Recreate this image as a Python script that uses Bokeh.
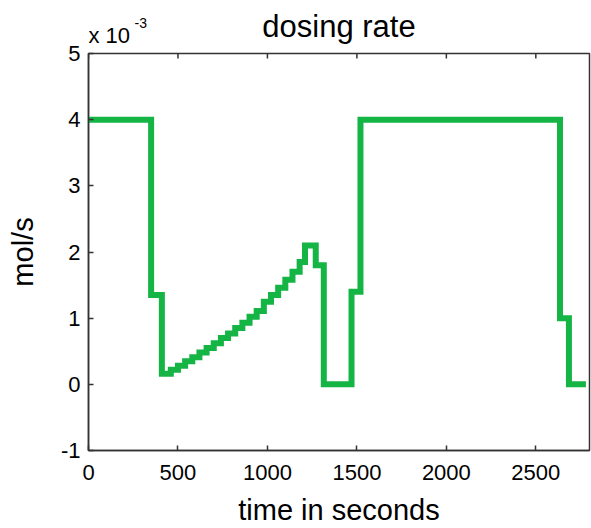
import math
from bokeh.plotting import figure
from bokeh.models import Label, Range1d, FixedTicker
from bokeh.layouts import column
from bokeh.embed import file_html
from bokeh.resources import INLINE

# dosing rate in units of 1e-3 mol/s (step signal, value holds until next time)
time_s = [0, 350, 410, 460, 500, 540, 580, 620, 660, 700, 740, 780, 820, 860,
          900, 940, 980, 1020, 1060, 1100, 1140, 1180, 1210, 1270, 1315,
          1470, 1520, 2635, 2685, 2780]
rate = [4.0, 1.35, 0.16, 0.22, 0.28, 0.35, 0.41, 0.48, 0.55, 0.62, 0.70, 0.77,
        0.85, 0.93, 1.02, 1.11, 1.25, 1.35, 1.46, 1.58, 1.70, 1.85, 2.10, 1.80,
        0.0, 1.40, 4.0, 1.0, 0.0, 0.0]

x_ticks = [0, 500, 1000, 1500, 2000, 2500]
y_ticks = [-1, 0, 1, 2, 3, 4, 5]
x_lim = (0, 2800)
y_lim = (-1, 5)

FONT = "Liberation Sans"
AX = "#333333"

# ---- main plot ----
p = figure(width=591, height=483,
           min_border_left=88, min_border_top=8, min_border_bottom=75,
           min_border_right=2,
           x_range=Range1d(*x_lim), y_range=Range1d(*y_lim),
           output_backend="svg", toolbar_location=None)

p.grid.visible = False
p.outline_line_color = AX
p.outline_line_width = 1.5
p.background_fill_color = "white"
p.border_fill_color = "white"

p.step(time_s, rate, mode="after", line_color="#14B445", line_width=6,
       line_join="miter")

# mirrored tick marks on the top edge (inside the box)
p.ray(x=x_ticks, y=[y_lim[1]] * len(x_ticks), length=5, length_units="screen",
      angle=-math.pi / 2, line_color=AX, line_width=1.5)

for ax in p.xaxis + p.yaxis:
    ax.major_tick_in = 5
    ax.major_tick_out = 0
    ax.minor_tick_line_color = None
    ax.axis_line_color = AX
    ax.axis_line_width = 1.5
    ax.major_tick_line_color = AX
    ax.major_tick_line_width = 1.5
    ax.major_label_text_font = FONT
    ax.major_label_text_font_size = "22px"
    ax.major_label_text_color = "black"
    ax.axis_label_text_font = FONT
    ax.axis_label_text_font_size = "29px"
    ax.axis_label_text_font_style = "normal"
    ax.axis_label_text_color = "black"

p.xaxis.ticker = FixedTicker(ticks=x_ticks)
p.yaxis.ticker = FixedTicker(ticks=y_ticks)
p.yaxis.major_label_overrides = {-1: "-1"}
p.xaxis.axis_label = "time in seconds"
p.yaxis.axis_label = "mol/s"
p.xaxis.major_label_standoff = 14
p.yaxis.major_label_standoff = 8
p.xaxis.axis_label_standoff = 11
p.yaxis.axis_label_standoff = 19

# ---- header with title and exponent ----
h = figure(width=591, height=45,
           min_border_left=88, min_border_top=0, min_border_bottom=0,
           min_border_right=2,
           x_range=p.x_range, y_range=Range1d(0, 1),
           x_axis_type=None, y_axis_type=None,
           output_backend="svg", toolbar_location=None)
h.outline_line_color = None
h.grid.visible = False
h.background_fill_color = "white"
h.border_fill_color = "white"

h.add_layout(Label(x=(x_lim[0] + x_lim[1]) / 2, y=0, text="dosing rate",
                   y_offset=19, text_align="center",
                   text_baseline="alphabetic", text_font=FONT,
                   text_font_size="31px", text_color="black"))
h.add_layout(Label(x=x_lim[0], y=0, text="x 10", y_offset=10,
                   text_baseline="alphabetic", text_font=FONT,
                   text_font_size="22px", text_color="black"))
h.add_layout(Label(x=x_lim[0], y=0, text="-3", x_offset=46, y_offset=23,
                   text_baseline="alphabetic", text_font=FONT,
                   text_font_size="14px", text_color="black"))

layout = column(h, p)
open("out.html", "w").write(file_html(layout, INLINE))
